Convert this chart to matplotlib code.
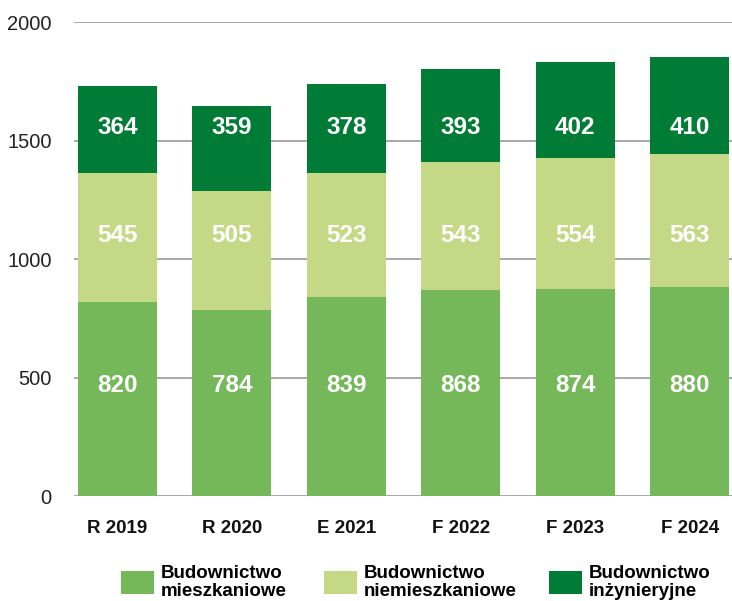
import matplotlib.pyplot as plt
from matplotlib.patches import Patch

# dane
kategorie = ["R 2019", "R 2020", "E 2021", "F 2022", "F 2023", "F 2024"]
mieszkaniowe = [820, 784, 839, 868, 874, 880]
niemieszkaniowe = [545, 505, 523, 543, 554, 563]
inzynieryjne = [364, 359, 378, 393, 402, 410]
serie_nazwy = ["Budownictwo\nmieszkaniowe", "Budownictwo\nniemieszkaniowe", "Budownictwo\ninżynieryjne"]
y_ticks = [0, 500, 1000, 1500, 2000]

kolory = ["#74B85A", "#C5D886", "#007C36"]
# etykiety wartości stoją w stałych rzędach (jak w oryginale)
rzedy_etykiet = [466, 1099, 1555]
legenda_x = [121 / 732, 324 / 732, 549 / 732]
FONT = ["Liberation Sans", "DejaVu Sans"]

fig = plt.figure(figsize=(7.32, 6.01), dpi=100)
ax = fig.add_axes([0.101, 0.1747, 0.899, 0.7885])

x = list(range(len(kategorie)))
dol = [0] * len(x)
for vals, kol, y_et in zip([mieszkaniowe, niemieszkaniowe, inzynieryjne], kolory, rzedy_etykiet):
    bars = ax.bar(x, vals, bottom=dol, width=0.69, color=kol, edgecolor="none", zorder=3)
    for b, v in zip(bars, vals):
        ax.text(b.get_x() + b.get_width() / 2, y_et, str(v),
                ha="center", va="center", color="white", fontsize=17.5,
                fontweight="bold", family=FONT, zorder=4)
    dol = [d + v for d, v in zip(dol, vals)]

ax.set_xlim(-0.38, len(x) - 1 + 0.37)
ax.set_ylim(0, 2000)
ax.set_yticks(y_ticks)
ax.set_yticklabels([str(t) for t in y_ticks], family=FONT, fontsize=14.5, color="#222222")
ax.set_xticks(x)
ax.set_xticklabels(kategorie, family=FONT, fontsize=13.5, fontweight="bold", color="#111111")
ax.tick_params(axis="both", length=0)
ax.tick_params(axis="y", pad=16)
ax.tick_params(axis="x", pad=17)
for s in ax.spines.values():
    s.set_visible(False)
ax.grid(axis="y", color="#9a9a9a", linewidth=1.2, zorder=1)
ax.set_axisbelow(True)

# legenda: trzy osobne wpisy
for nazwa, kol, lx in zip(serie_nazwy, kolory, legenda_x):
    leg = fig.legend([Patch(facecolor=kol, edgecolor="none")], [nazwa],
                     loc="center left", bbox_to_anchor=(lx, 0.031),
                     frameon=False, handlelength=1.76, handleheight=1.55,
                     handletextpad=0.38, borderpad=0, borderaxespad=0,
                     prop={"family": FONT, "weight": "bold", "size": 13.5})
    for t in leg.get_texts():
        t.set_linespacing(1.05)

fig.savefig("out.png", dpi=100, facecolor="white")
